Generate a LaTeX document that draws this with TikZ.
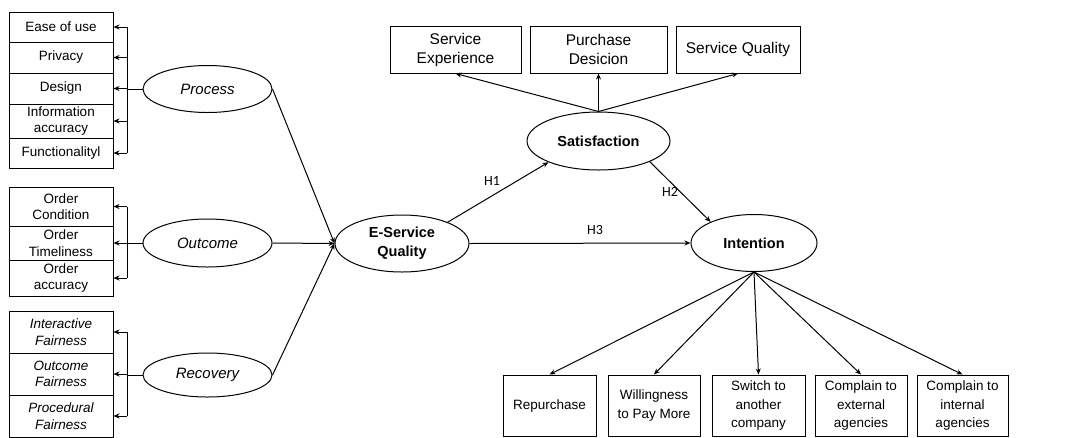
\documentclass[tikz,border=0pt]{standalone}
\usepackage{fontspec}
\setmainfont{Liberation Sans}
\newfontfamily\hfont{Carlito}
\usetikzlibrary{arrows.meta,shapes.geometric}
\newcommand\mybx[7][]{\node[box,#1,minimum width={#5-#3},minimum height={#6-#4}] (#2) at ({(#3+#5)/2},{(#4+#6)/2}) {#7};}
\begin{document}
\begin{tikzpicture}[x=1pt,y=-1pt,
  box/.style={draw,line width=1pt,inner sep=1pt,align=center,font=\fontsize{13.5}{16.5}\selectfont},
  topbox/.style={font=\fontsize{15.5}{19}\selectfont},
  botbox/.style={font=\fontsize{13.5}{18.5}\selectfont},
  ell/.style={draw,ellipse,line width=1pt,inner sep=0pt,align=center},
  lat/.style={ell,font=\fontsize{15}{18}\selectfont\itshape},
  con/.style={ell,font=\fontsize{14.5}{19}\selectfont\bfseries},
  ln/.style={line width=1pt},
  arr/.style={line width=1pt,-{Stealth[length=6pt,width=5pt]}},
  hl/.style={font=\hfont\fontsize{14}{16}\selectfont,inner sep=0pt}]
\useasboundingbox (0,0) rectangle (1083,437);
% left boxes: Process
\mybx{ease}{9}{12}{113}{42}{Ease of use}
\mybx{priv}{9}{42}{113}{73}{Privacy}
\mybx{design}{9}{73}{113}{104}{Design}
\mybx{info}{9}{104}{113}{138}{Information\\accuracy}
\mybx{func}{9}{138}{113}{168}{Functionalityl}
% Outcome
\mybx{ocond}{9}{187}{113}{226}{Order\\Condition}
\mybx{otime}{9}{226}{113}{260}{Order\\Timeliness}
\mybx{oacc}{9}{260}{113}{296}{Order\\accuracy}
% Recovery
\mybx{ifair}{9}{311}{113}{353}{\itshape Interactive\\\itshape Fairness}
\mybx{ofair}{9}{353}{113}{395}{\itshape Outcome\\\itshape Fairness}
\mybx{pfair}{9}{395}{113}{437}{\itshape Procedural\\\itshape Fairness}
% top boxes
\mybx[topbox]{sexp}{390}{26}{521}{73}{Service\\Experience}
\mybx[topbox]{pdec}{530}{26}{667}{73}{Purchase\\Desicion}
\mybx[topbox]{squal}{676}{26}{800}{73}{Service Quality}
% bottom boxes
\mybx[botbox]{rep}{503}{375}{596}{436}{Repurchase}
\mybx[botbox]{will}{608}{375}{700}{436}{Willingness\\to Pay More}
\mybx[botbox]{swit}{712}{375}{805}{436}{Switch to\\another\\company}
\mybx[botbox]{cext}{815}{375}{907}{436}{Complain to\\external\\agencies}
\mybx[botbox]{cint}{917}{375}{1008}{436}{Complain to\\internal\\agencies}
% ellipses
\node[lat,minimum width=129,minimum height=47] (process) at (207.5,89) {Process};
\node[lat,minimum width=129,minimum height=48] (outcome) at (207.5,243) {Outcome};
\node[lat,minimum width=129,minimum height=44] (recovery) at (207.5,375) {Recovery};
\node[con,minimum width=134,minimum height=57] (eserv) at (402,243.5) {E-Service\\Quality};
\node[con,minimum width=143,minimum height=58] (sat) at (598.5,141) {Satisfaction};
\node[con,minimum width=126,minimum height=57] (int) at (754,243) {Intention};
% brackets
\draw[ln] (process.west) -- (127,89) coordinate (pb);
\draw[ln] (pb |- ease.east) -- (pb |- func.east);
\foreach \b in {ease,priv,design,info,func} \draw[arr] (pb |- \b.east) -- (\b.east);
\draw[ln] (outcome.west) -- (127,243) coordinate (ob);
\draw[ln] (ob |- ocond.east) -- (ob |- oacc.east);
\foreach \b in {ocond,otime,oacc} \draw[arr] (ob |- \b.east) -- (\b.east);
\draw[ln] (recovery.west) -- (127,375) coordinate (rb);
\draw[ln] (rb |- ifair.east) -- (rb |- pfair.east);
\foreach \b in {ifair,ofair,pfair} \draw[arr] (rb |- \b.east) -- (\b.east);
% to E-Service
\draw[arr] (process.east) -- (eserv.west);
\draw[arr] (outcome.east) -- (eserv.west);
\draw[arr] (recovery.east) -- (eserv.west);
% hypotheses
\draw[arr] (eserv.25) -- (sat.203);
\draw[arr] (sat.338) -- (int.154);
\draw[arr] (eserv.east) -- (int.west);
\node[hl] (h1) at (492,181) {H1};
\node[hl] (h2) at (670,192) {H2};
\node[hl] (h3) at (595,230) {H3};
% satisfaction indicators
\foreach \b in {sexp,pdec,squal} \draw[arr] (sat.north) -- (\b.south);
% intention indicators
\foreach \b in {rep,will,swit,cext,cint} \draw[arr] (int.south) -- (\b.north);
\end{tikzpicture}
\end{document}
